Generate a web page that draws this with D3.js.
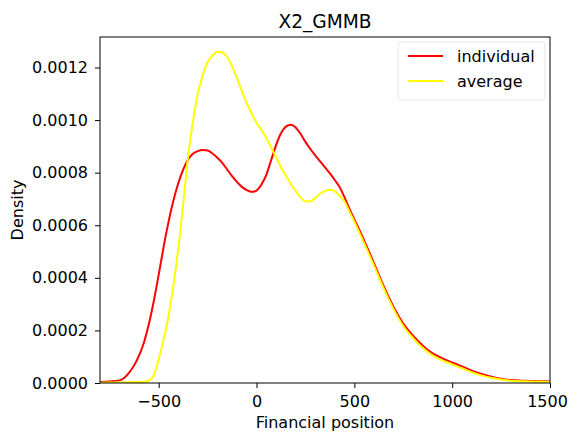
<!DOCTYPE html>
<html>
<head>
<meta charset="utf-8">
<script src="https://cdn.jsdelivr.net/npm/d3@7"></script>
<style>
  body { margin: 0; background: #fff; }
  svg { font-family: "DejaVu Sans", sans-serif; }
</style>
</head>
<body>
<svg id="chart" width="568" height="432"></svg>
<script>
// chart data
var title = "X2_GMMB";
var xLabel = "Financial position";
var yLabel = "Density";
var seriesNames = ["individual", "average"];
var xTicks = [-500, 0, 500, 1000, 1500];
var yTicks = [0, 0.0002, 0.0004, 0.0006, 0.0008, 0.0010, 0.0012];

var position = [-800, -750, -700, -675, -650, -625, -600, -575, -550, -525, -500, -475, -450,
  -425, -400, -375, -350, -325, -300, -275, -250, -225, -200, -175, -150, -125, -100, -75,
  -50, -25, 0, 25, 50, 75, 100, 125, 150, 175, 200, 225, 250, 275, 300, 325, 350, 375, 400,
  425, 450, 475, 500, 525, 550, 575, 600, 650, 700, 750, 800, 850, 900, 950, 1000, 1050,
  1100, 1150, 1200, 1250, 1300, 1350, 1400, 1450, 1500];

var individual = [0.000004, 0.000006, 0.000010, 0.000020, 0.000040, 0.000068, 0.000105,
  0.000155, 0.000225, 0.000312, 0.000412, 0.000517, 0.000612, 0.000693, 0.000760, 0.000812,
  0.000850, 0.000872, 0.000882, 0.000886, 0.000884, 0.000873, 0.000857, 0.000837, 0.000812,
  0.000787, 0.000765, 0.000746, 0.000734, 0.000727, 0.000732, 0.000755, 0.000792, 0.000848,
  0.000905, 0.000950, 0.000975, 0.000982, 0.000972, 0.000948, 0.000917, 0.000890, 0.000866,
  0.000843, 0.000820, 0.000797, 0.000772, 0.000745, 0.000706, 0.000662, 0.000622, 0.000583,
  0.000542, 0.000500, 0.000456, 0.000368, 0.000290, 0.000226, 0.000180, 0.000142, 0.000113,
  0.000094, 0.000078, 0.000063, 0.000047, 0.000034, 0.000024, 0.000016, 0.000011, 0.000009,
  0.000008, 0.000007, 0.000006];

var average = [0.000001, 0.000002, 0.000002, 0.000003, 0.000003, 0.000004, 0.000004,
  0.000005, 0.000009, 0.000030, 0.000090, 0.000165, 0.000255, 0.000370, 0.000510, 0.000680,
  0.000860, 0.000995, 0.001100, 0.001170, 0.001220, 0.001245, 0.001260, 0.001257, 0.001240,
  0.001205, 0.001160, 0.001110, 0.001065, 0.001025, 0.000990, 0.000962, 0.000932, 0.000896,
  0.000858, 0.000820, 0.000788, 0.000758, 0.000730, 0.000706, 0.000691, 0.000690, 0.000704,
  0.000720, 0.000730, 0.000735, 0.000730, 0.000712, 0.000690, 0.000652, 0.000614, 0.000573,
  0.000532, 0.000490, 0.000447, 0.000360, 0.000282, 0.000217, 0.000171, 0.000133, 0.000105,
  0.000086, 0.000071, 0.000056, 0.000041, 0.000029, 0.000020, 0.000013, 0.000009, 0.000007,
  0.000006, 0.000005, 0.000004];

var colours = ["#ff0000", "#ffff00"];

// define svg parameters
var svg = d3.select("#chart"),
    margin = {top: 37, right: 18, bottom: 49, left: 100},
    width = +svg.attr("width") - margin.left - margin.right,
    height = +svg.attr("height") - margin.top - margin.bottom;

var x = d3.scaleLinear().domain([-800, 1500]).range([0, width]);
var y = d3.scaleLinear().domain([0, 0.001316]).range([height, 0]);

var g = svg.append("g")
  .attr("transform", "translate(" + margin.left + "," + margin.top + ")");

// clip the curves to the axes box
g.append("clipPath").attr("id", "clip")
  .append("rect").attr("width", width).attr("height", height);

var line = d3.line()
  .x(function(d) { return x(d[0]); })
  .y(function(d) { return y(d[1]); })
  .curve(d3.curveMonotoneX);

[individual, average].forEach(function(vals, i) {
  g.append("path")
    .datum(position.map(function(p, k) { return [p, vals[k]]; }))
    .attr("clip-path", "url(#clip)")
    .attr("fill", "none")
    .attr("stroke", colours[i])
    .attr("stroke-width", 2)
    .attr("stroke-linejoin", "round")
    .attr("d", line);
});

// axes
var fontSize = "16px";
var xAxis = g.append("g")
  .attr("transform", "translate(0," + height + ")")
  .call(d3.axisBottom(x).tickValues(xTicks).tickSize(5).tickPadding(5).tickFormat(d3.format("d")));
var yAxis = g.append("g")
  .call(d3.axisLeft(y).tickValues(yTicks).tickSize(5).tickPadding(7).tickFormat(d3.format(".4f")));
[xAxis, yAxis].forEach(function(a) {
  a.select(".domain").remove();
  a.selectAll("text").attr("font-size", fontSize).attr("font-family", "DejaVu Sans").attr("fill", "#000");
  a.selectAll("line").attr("stroke", "#000");
});
xAxis.selectAll("text").attr("dy", "0.9em");
// last label sits at the window edge, nudge it in
xAxis.selectAll("text").filter(function(d) { return d === 1500; }).attr("dx", "-3");

// frame
g.append("rect")
  .attr("width", width).attr("height", height)
  .attr("fill", "none").attr("stroke", "#000").attr("stroke-width", 1);

// labels
svg.append("text")
  .attr("x", margin.left + width / 2).attr("y", 28)
  .attr("text-anchor", "middle").attr("font-size", "18.6px")
  .text(title);
svg.append("text")
  .attr("x", margin.left + width / 2).attr("y", 428)
  .attr("text-anchor", "middle").attr("font-size", fontSize)
  .text(xLabel);
svg.append("text")
  .attr("transform", "translate(23," + (margin.top + height / 2) + ") rotate(-90)")
  .attr("text-anchor", "middle").attr("font-size", fontSize)
  .text(yLabel);

// legend
var legend = svg.append("g").attr("transform", "translate(398,42)");
legend.append("rect")
  .attr("width", 147).attr("height", 58).attr("rx", 3)
  .attr("fill", "#fff").attr("fill-opacity", 0.8)
  .attr("stroke", "#e6e6e6");
seriesNames.forEach(function(name, i) {
  var row = legend.append("g").attr("transform", "translate(0," + (14 + i * 25) + ")");
  row.append("line")
    .attr("x1", 10).attr("x2", 45)
    .attr("stroke", colours[i]).attr("stroke-width", 2);
  row.append("text")
    .attr("x", 59).attr("y", 5.5)
    .attr("font-size", fontSize)
    .text(name);
});
</script>
</body>
</html>
